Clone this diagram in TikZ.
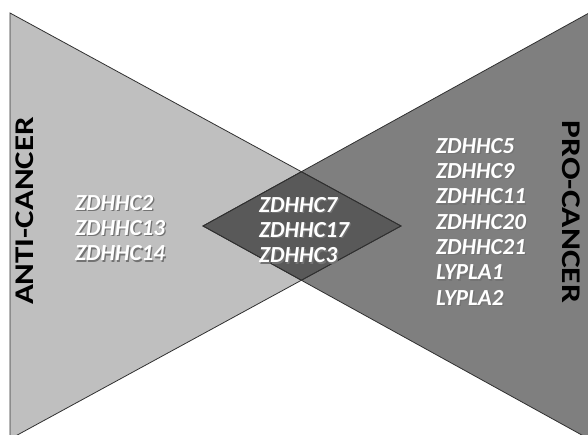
\documentclass[tikz,border=0pt]{standalone}
\usepackage{fontspec}
\setmainfont{Carlito}
\usetikzlibrary{calc}
\definecolor{antigray}{HTML}{BFBFBF}
\definecolor{progray}{HTML}{7F7F7F}
\definecolor{bothgray}{HTML}{595959}
\definecolor{edgegray}{HTML}{303030}
\newcommand\shtxt[1]{\makebox[0pt][l]{\hspace{1.3pt}\raisebox{-1.3pt}{\color{black!55}#1}}#1}
\tikzset{
  tri/.style={draw=edgegray, line width=0.8pt, line join=miter},
  genes/.style={text=white, font=\fontsize{23}{25.3}\selectfont\bfseries\itshape, align=left, inner sep=0pt, anchor=north west},
  sidetitle/.style={text=black, font=\fontsize{27}{30}\selectfont\bfseries, inner sep=0pt}
}
\begin{document}
\begin{tikzpicture}[x=1pt,y=1pt]
\useasboundingbox (0,0) rectangle (588,435);
\clip (0,0) rectangle (588,435);
\coordinate (LT) at (10,422);
\coordinate (LB) at (10,-4);
\coordinate (LA) at (401,209);
\coordinate (RT) at (589,422);
\coordinate (RB) at (589,-4);
\coordinate (RA) at (203,209);
\fill[antigray] (LT) -- (LB) -- (LA) -- cycle;
\fill[progray] (RT) -- (RB) -- (RA) -- cycle;
\coordinate (DT) at (intersection of LT--LA and RT--RA);
\coordinate (DB) at (intersection of LB--LA and RB--RA);
\filldraw[fill=bothgray, tri] (RA) -- (DT) -- (LA) -- (DB) -- cycle;
\draw[tri] (LT) -- (LB) -- (LA) -- cycle;
\draw[tri] (RT) -- (RB) -- (RA) -- cycle;
\node[sidetitle, rotate=90] (anti) at (25,224) {\scalebox{1.22}[1]{ANTI-CANCER}};
\node[sidetitle, rotate=-90] (pro) at (571,223) {\scalebox{1.24}[1]{PRO-CANCER}};
\node[genes] (leftgenes) at (75,240) {\shtxt{ZDHHC2}\\\shtxt{ZDHHC13}\\\shtxt{ZDHHC14}};
\node[genes] (midgenes) at (259,238) {\shtxt{ZDHHC7}\\\shtxt{ZDHHC17}\\\shtxt{ZDHHC3}};
\node[genes] (rightgenes) at (436,297) {\shtxt{ZDHHC5}\\\shtxt{ZDHHC9}\\\shtxt{ZDHHC11}\\\shtxt{ZDHHC20}\\\shtxt{ZDHHC21}\\\shtxt{LYPLA1}\\\shtxt{LYPLA2}};
\end{tikzpicture}
\end{document}
